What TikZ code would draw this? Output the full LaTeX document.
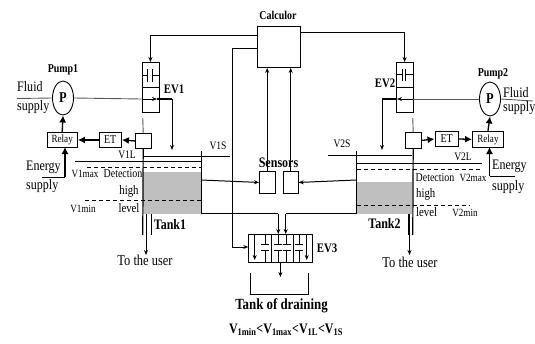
\documentclass[tikz,border=0pt]{standalone}
\usepackage{fontspec}
\setmainfont[FakeStretch=0.83]{Liberation Serif}
\usetikzlibrary{arrows.meta,shapes.geometric}
\tikzset{
    box/.style={draw, line width=0.9pt, inner sep=0pt, anchor=north west},
    txt/.style={inner sep=0pt, font=\fontsize{#1}{#1}\selectfont},
    boldtxt/.style={inner sep=0pt, font=\fontsize{#1}{#1}\selectfont\bfseries},
    pump/.style={draw, ellipse, line width=0.9pt, minimum width=21pt, minimum height=34pt, inner sep=0pt, font=\fontsize{15}{15}\selectfont\bfseries},
    pipe/.style={line width=0.9pt, draw=black!65},
    fine/.style={line width=0.8pt},
    level/.style={line width=0.7pt, dash pattern=on 4pt off 3pt},
    wire/.style={line width=1pt, -{Stealth[length=5pt,width=4pt]}},
    thickwire/.style={line width=1.3pt, -{Latex[length=7pt,width=7pt]}},
}
\begin{document}
\begin{tikzpicture}[x=1pt, y=-1pt]
    \useasboundingbox (0,0) rectangle (535,343);

    % Tank fill
    \fill[black!25] (143,172) rectangle (201,213.7);
    \fill[black!25] (357,182) rectangle (412,213.7);

    % Calculor
    \node[box, minimum width=42.5pt, minimum height=41pt] (calc) at (257,26) {};
    \node[boldtxt=12] (calclabel) at (278,15) {Calculor};

    % Valves
    \node[box, minimum width=17pt, minimum height=50pt] (ev1) at (141.5,62) {};
    \node[box, minimum width=17pt, minimum height=50pt] (ev2) at (395.7,62) {};
    \draw[fine] (141.5,87.5) -- (158.5,87.5);
    \draw[fine] (395.7,87) -- (412.7,87);
    \draw[fine] (141.5,75.7) -- (147.7,75.7) (147.7,69) -- (147.7,81.7) (152.3,69) -- (152.3,81.7) (152.3,75.7) -- (158.5,75.7);
    \draw[fine] (395.7,74.5) -- (402.3,74.5) (402.3,69) -- (402.3,81) (405.8,69) -- (405.8,81) (405.8,74.5) -- (412.7,74.5);
    \node[boldtxt=13] (ev1label) at (174,89) {EV1};
    \node[boldtxt=13] (ev2label) at (385,83) {EV2};

    % Pumps
    \node[pump] (p1) at (63,98) {P};
    \node[pump] (p2) at (490,99) {P};
    \node[boldtxt=12] (pump1label) at (63,70) {Pump1};
    \node[boldtxt=12] (pump2label) at (493,74) {Pump2};

    % Relays, ET and level boxes
    \node[box, minimum width=30.5pt, minimum height=15pt, txt=11] (relay1) at (46.5,132) {Relay};
    \node[box, minimum width=22.5pt, minimum height=15pt, txt=12] (et1) at (98.5,132) {ET};
    \node[box, minimum width=15.5pt, minimum height=15pt] (sq1) at (135,133) {};
    \node[box, minimum width=31pt, minimum height=16pt, txt=11] (relay2) at (472,131) {Relay};
    \node[box, minimum width=23.5pt, minimum height=15pt, txt=12] (et2) at (434.5,131) {ET};
    \node[box, minimum width=15.5pt, minimum height=16pt] (sq2) at (405,132) {};

    % Sensors
    \node[box, minimum width=15.5pt, minimum height=22pt] (s1) at (259,171) {};
    \node[box, minimum width=15pt, minimum height=22pt] (s2) at (282.7,171) {};
    \node[boldtxt=14.5] (senslabel) at (278.5,163) {Sensors};

    % EV3
    \node[box, minimum width=64pt, minimum height=28pt] (ev3) at (248.3,234) {};
    \node[boldtxt=13] (ev3label) at (327,248) {EV3};
    \draw[fine] (271.2,234) -- (271.2,262) (293.5,234) -- (293.5,262);
    \foreach \xpos in {265, 278.3, 286.7, 299.3} {
        \draw[fine] (\xpos,234) -- (\xpos,244) (\xpos-4,244) -- (\xpos+4,244);
        \draw[fine] (\xpos-4,250) -- (\xpos+4,250) (\xpos,250) -- (\xpos,262);
    }

    % Free ends
    \coordinate (fluid1) at (17,98.5);
    \coordinate (fluid2) at (533,101);
    \coordinate (ev1in) at (141.5,99);
    \coordinate (ev1tip) at (157,99);
    \coordinate (ev1corner) at (172,99);
    \coordinate (ev1out) at (172,150);
    \coordinate (ev2in) at (412.7,99);
    \coordinate (ev2tip) at (397,99);
    \coordinate (ev2corner) at (382,99);
    \coordinate (ev2out) at (382,150);
    \coordinate (en1a) at (42,177);
    \coordinate (en1b) at (65,177);
    \coordinate (en1c) at (65,147);
    \coordinate (en2a) at (515,176);
    \coordinate (en2b) at (489.5,176);
    \coordinate (en2c) at (489.5,147);
    \coordinate (ev3in) at (232,247);
    \coordinate (t1top) at (142.75,118);
    \coordinate (t1end) at (142.75,235);
    \coordinate (t2top) at (412.75,118);
    \coordinate (t2end) at (412.75,235);
    \coordinate (t1wall) at (201,151);
    \coordinate (t1foot) at (201,213.7);
    \coordinate (t2wall) at (356.5,151);
    \coordinate (t2foot) at (356.5,213.7);
    \coordinate (ev3a) at (278.3,213.7);
    \coordinate (ev3b) at (285.7,213.7);

    % Fluid lines
    \draw[pipe] (fluid1) -- (p1.west);
    \draw[pipe] (p1.east) -- (ev1in);
    \draw[pipe] (p2.east) -- (fluid2);
    \draw[pipe] (p2.west) -- (ev2in);
    \draw[wire] (ev1in) -- (ev1tip);
    \draw[wire] (ev2in) -- (ev2tip);
    \draw[line width=1.2pt] (ev1tip) -- (ev1corner);
    \draw[wire] (ev1corner) -- (ev1out);
    \draw[line width=1.2pt] (ev2tip) -- (ev2corner);
    \draw[wire] (ev2corner) -- (ev2out);

    % Calculor to valves and sensors
    \draw[wire] (calc.north west |- 0,35) -| (ev1.north);
    \draw[wire] (calc.north east |- 0,32.5) -| (ev2.north);
    \draw[wire] (calc.north west |- 0,48) -| (ev3in) -- (ev3.west |- ev3in);
    \draw[wire] (s1.north) -- (s1.north |- calc.south);
    \draw[wire] (s2.north) -- (s2.north |- calc.south);

    % Relay arrows
    \draw[thickwire] (sq1.west) -- (et1.east);
    \draw[thickwire] (et1.west) -- (relay1.east);
    \draw[thickwire] (relay1.north) -- (p1.south);
    \draw[thickwire] (sq2.east) -- (et2.west);
    \draw[thickwire] (et2.east) -- (relay2.west);
    \draw[thickwire] (relay2.north) -- (p2.south);
    \draw[line width=1pt] (en1a) -- (en1b);
    \draw[thickwire] (en1b) -- (en1c);
    \draw[line width=1pt] (en2a) -- (en2b);
    \draw[thickwire] (en2b) -- (en2c);

    % Tank 1
    \draw[pipe] (t1top) -- (sq1.north);
    \draw[line width=1.2pt] (sq1.south) -- (t1end);
    \draw[line width=1pt] (151,214) -- (151,235);
    \draw[line width=1pt] (t1wall) -- (t1foot);
    \draw[line width=0.9pt] (t1top |- 0,156) -- (229.5,156);
    \draw[line width=0.9pt] (75,161.4) -- (201,161.4);
    \draw[level] (87,167.5) -- (201,167.5);
    \draw[level] (85,200.7) -- (201,200.7);
    \draw[wire] (146,214) -- (146,255);

    % Tank 2
    \draw[pipe] (t2top) -- (sq2.north);
    \draw[line width=1.2pt] (sq2.south) -- (t2end);
    \draw[line width=1pt] (408,214) -- (408,235);
    \draw[line width=1pt] (t2wall) -- (t2foot);
    \draw[line width=0.9pt] (327.5,155) -- (412,155);
    \draw[line width=0.9pt] (356.5,163.3) -- (481.7,163.3);
    \draw[level] (356.5,169.3) -- (480,169.3);
    \draw[level] (356.5,205) -- (470,205);
    \draw[wire] (409.5,214) -- (409.5,255);

    % Tanks to sensors and EV3
    \draw[wire] (t1wall |- 0,180) -- (s1.west);
    \draw[wire] (t2wall |- 0,180) -- (s2.east);
    \draw[line width=1.1pt] (t1foot) -- (ev3a);
    \draw[wire] (ev3a) -- (ev3a |- ev3.north);
    \draw[line width=1.1pt] (t2foot) -- (ev3b);
    \draw[wire] (ev3b) -- (ev3b |- ev3.north);
    \draw[wire] (254.7,234) -- (254.7,260);
    \draw[wire] (306.7,234) -- (306.7,260);
    \draw[wire] (ev3.south -| 280.4,0) -- (280.4,277);

    % Tank of draining
    \draw[fine] (250,273) -- (250,294) -- (308.5,294) -- (308.5,273);

    % Labels
    \node[txt=14.5, anchor=west] (fl1) at (17,87) {Fluid};
    \node[txt=14.5, anchor=west] (su1) at (17,107) {supply};
    \node[txt=14.5, anchor=west] (fl2) at (503,93) {Fluid};
    \node[txt=14.5, anchor=west] (su2) at (503,108) {supply};
    \node[txt=14.5, anchor=west] (en1) at (26,167) {Energy};
    \node[txt=14.5, anchor=west] (sp1) at (26,186) {supply};
    \node[txt=14.5, anchor=west] (en2) at (492,166) {Energy};
    \node[txt=14.5, anchor=west] (sp2) at (492,187) {supply};
    \node[txt=11.5] (v1s) at (218,146) {V1S};
    \node[txt=11.5] (v1l) at (127,155) {V1L};
    \node[txt=11] (v1max) at (85,174) {V1max};
    \node[txt=12] (det1) at (123,174) {Detection};
    \node[txt=13] (high1) at (129,191) {high};
    \node[txt=13] (lev1) at (129,208) {level};
    \node[txt=11] (v1min) at (83,209) {V1min};
    \node[boldtxt=14.5] (tank1) at (170,225) {Tank1};
    \node[txt=11.5] (v2s) at (342,144) {V2S};
    \node[txt=11.5] (v2l) at (463,157) {V2L};
    \node[txt=11] (v2max) at (473,178) {V2max};
    \node[txt=12] (det2) at (435,178) {Detection};
    \node[txt=13, anchor=west] (high2) at (416,194) {high};
    \node[txt=13, anchor=west] (lev2) at (416,212) {level};
    \node[txt=11] (v2min) at (465,213) {V2min};
    \node[boldtxt=14.5] (tank2) at (384.5,224) {Tank2};
    \node[txt=15] (user1) at (145,260) {To the user};
    \node[txt=15] (user2) at (410,262) {To the user};
    \node[boldtxt=15.5] (drain) at (281.5,306) {Tank of draining};
    \node[boldtxt=14.5] (ineq) at (286,330) {V\textsubscript{1min}<V\textsubscript{1max}<V\textsubscript{1L}<V\textsubscript{1S}};
\end{tikzpicture}
\end{document}
